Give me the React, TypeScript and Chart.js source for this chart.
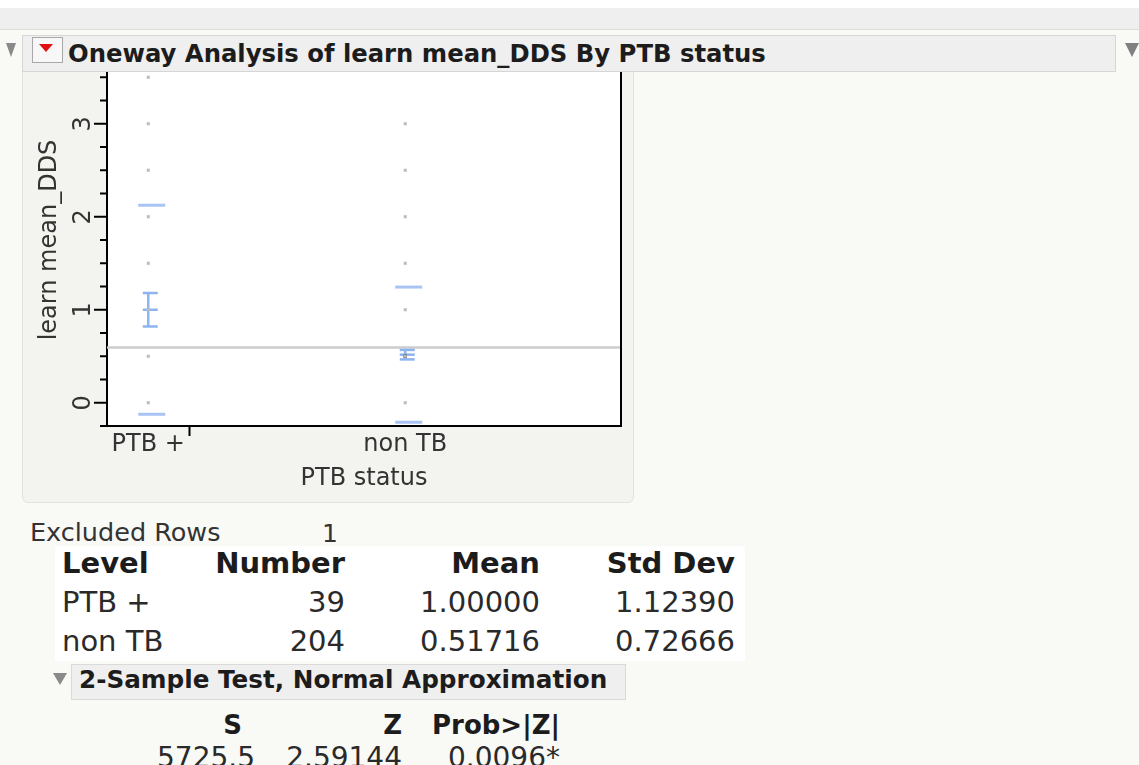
import React, { useEffect, useRef } from "react";
import { Chart, registerables } from "chart.js";

Chart.register(...registerables);

// ---------- data ----------
const categories = ["PTB +", "non TB"];
const groupCounts = [39, 204];
// proportional x axis (JMP "X axis proportional"): group centres on a 0..N scale
const categoryCenters = [19.5, 141];
const groupBoundaries = [39];
const xTotal = 243;

const ptbPoints = [0, 0.5, 1, 1.5, 2, 2.5, 3, 3.5];
const nonTbPoints = [0, 0.5, 1, 1.5, 2, 2.5, 3];
const nonTbHighlighted = [0.5];

const groupMeans = [1.0, 0.51716];
const meanBarLow = [0.82, 0.466];
const meanBarHigh = [1.18, 0.568];
const sdUpper = [2.1239, 1.24382];
const sdLower = [-0.1239, -0.2095];
const grandMean = 0.595;

const yMin = -0.25;
const yMax = 3.75;
const yTickValues = [-0.25, 0, 0.25, 0.5, 0.75, 1, 1.25, 1.5, 1.75, 2, 2.25, 2.5, 2.75, 3, 3.25, 3.5];
const yMajorTicks = [0, 1, 2, 3];
const yTickLabels = ["0", "1", "2", "3"];
const xTickValues = [19.5, 39, 141];
const xTickLabels = ["PTB +", "", "non TB"];

const titleText = "Oneway Analysis of learn mean_DDS By PTB status";
const yTitle = "learn mean_DDS";
const xTitle = "PTB status";

const tableHeaders = ["Level", "Number", "Mean", "Std Dev"];
const tableMeans = ["1.00000", "0.51716"];
const tableStdDevs = ["1.12390", "0.72666"];
const excludedRows = 1;
const testTitle = "2-Sample Test, Normal Approximation";
const testHeaders = ["S", "Z", "Prob>|Z|"];
const testValues = ["5725.5", "2.59144", "0.0096*"];

const FONT = "'DejaVu Sans', 'Liberation Sans', sans-serif";
const W = 1139;

function Txt(props: { x: number; base: number; size: number; bold?: boolean; right?: boolean; color?: string; children: any }) {
  const { x, base, size, bold, right, color, children } = props;
  const st: any = {
    position: "absolute",
    top: base - 0.846 * size,
    fontSize: size,
    lineHeight: 1,
    fontWeight: bold ? 700 : 400,
    whiteSpace: "nowrap",
    color: color || "#222",
  };
  if (right) st.right = W - x;
  else st.left = x;
  return <div style={st}>{children}</div>;
}

const jmpPlugin = {
  id: "jmpMarks",
  beforeDraw(chart: any) {
    const { ctx, chartArea: a } = chart;
    ctx.save();
    ctx.fillStyle = "#ffffff";
    ctx.fillRect(a.left, a.top, a.right - a.left, a.bottom - a.top);
    ctx.restore();
  },
  beforeDatasetsDraw(chart: any) {
    const { ctx, chartArea: a } = chart;
    const x = chart.scales.x;
    const y = chart.scales.y;
    const seg = (x1: number, y1: number, x2: number, y2: number) => {
      ctx.beginPath();
      ctx.moveTo(x1, y1);
      ctx.lineTo(x2, y2);
      ctx.stroke();
    };
    ctx.save();
    const gy = y.getPixelForValue(grandMean);
    ctx.strokeStyle = "#cdcdcd";
    ctx.lineWidth = 2.5;
    seg(a.left, gy, a.right, gy);
    categories.forEach((_, i) => {
      const cx = x.getPixelForValue(categoryCenters[i]);
      ctx.strokeStyle = "#a9c4f3";
      ctx.lineWidth = 3;
      [sdUpper[i], sdLower[i]].forEach((v) => {
        const py = y.getPixelForValue(v);
        seg(cx - 10, py, cx + 17, py);
      });
      ctx.strokeStyle = "#8db3f0";
      ctx.lineWidth = 2.5;
      const t = y.getPixelForValue(meanBarHigh[i]);
      const b = y.getPixelForValue(meanBarLow[i]);
      const m = y.getPixelForValue(groupMeans[i]);
      seg(cx, t, cx, b);
      [t, m, b].forEach((py) => seg(cx - 5.5, py, cx + 9.5, py));
    });
    ctx.restore();
  },
  afterDraw(chart: any) {
    const { ctx, chartArea: a } = chart;
    const y = chart.scales.y;
    ctx.save();
    ctx.strokeStyle = "#000";
    ctx.lineWidth = 2;
    ctx.beginPath();
    ctx.moveTo(a.right, a.top);
    ctx.lineTo(a.right, a.bottom + 1);
    ctx.stroke();
    yTickValues.forEach((v) => {
      const py = y.getPixelForValue(v);
      const len = yMajorTicks.includes(v) ? 13 : 7;
      ctx.beginPath();
      ctx.moveTo(a.left - len, py);
      ctx.lineTo(a.left, py);
      ctx.stroke();
    });
    ctx.fillStyle = "#333";
    ctx.font = `24px ${FONT}`;
    ctx.textAlign = "center";
    ctx.textBaseline = "alphabetic";
    yMajorTicks.forEach((v, i) => {
      const py = y.getPixelForValue(v);
      ctx.save();
      ctx.translate(a.left - 17, py);
      ctx.rotate(-Math.PI / 2);
      ctx.fillText(yTickLabels[i], 0, 0);
      ctx.restore();
    });
    ctx.restore();
  },
};

function OnewayChart() {
  const ref = useRef<HTMLCanvasElement>(null);
  useEffect(() => {
    const chart = new Chart(ref.current as HTMLCanvasElement, {
      type: "scatter",
      data: {
        datasets: [
          {
            label: categories[0],
            data: ptbPoints.map((v) => ({ x: categoryCenters[0], y: v })),
            pointStyle: "rect",
            pointRadius: 2.2,
            backgroundColor: "#bdbdbd",
            borderWidth: 0,
          },
          {
            label: categories[1],
            data: nonTbPoints.map((v) => ({ x: categoryCenters[1], y: v })),
            pointStyle: "rect",
            pointRadius: 2.2,
            backgroundColor: "#bdbdbd",
            borderWidth: 0,
          },
          {
            label: "selected",
            data: nonTbHighlighted.map((v) => ({ x: categoryCenters[1], y: v })),
            pointStyle: "rect",
            pointRadius: 2.4,
            backgroundColor: "#1a1a1a",
            borderWidth: 0,
          },
        ],
      },
      options: {
        animation: false,
        responsive: false,
        devicePixelRatio: 1,
        layout: { autoPadding: false, padding: { left: 0, right: 13, top: 0, bottom: 0 } },
        plugins: { legend: { display: false }, tooltip: { enabled: false } },
        scales: {
          x: {
            type: "linear",
            min: 0,
            max: xTotal,
            afterBuildTicks: (s: any) => {
              s.ticks = xTickValues.map((v) => ({ value: v }));
            },
            afterFit: (s: any) => {
              s.height = 76;
            },
            ticks: {
              autoSkip: false,
              minRotation: 0,
              maxRotation: 0,
              padding: -3,
              color: "#333",
              font: { family: FONT, size: 24, lineHeight: 1 },
              callback: (v: any) => xTickLabels[xTickValues.indexOf(Number(v))] ?? "",
            },
            grid: {
              drawOnChartArea: false,
              tickLength: 10,
              tickWidth: 2,
              tickColor: (c: any) => (c.tick && groupBoundaries.includes(c.tick.value) ? "#000" : "rgba(0,0,0,0)"),
            },
            border: { color: "#000", width: 2 },
            title: {
              display: true,
              text: xTitle,
              color: "#333",
              font: { family: FONT, size: 24, lineHeight: 1.2 },
              padding: { top: 0, bottom: 9 },
            },
          },
          y: {
            type: "linear",
            min: yMin,
            max: yMax,
            afterFit: (s: any) => {
              s.width = 85;
            },
            ticks: { display: false },
            grid: { display: false },
            border: { display: true, color: "#000", width: 2 },
            title: {
              display: true,
              text: yTitle,
              color: "#333",
              font: { family: FONT, size: 24, lineHeight: 1.2 },
              padding: { top: 13, bottom: 0 },
            },
          },
        },
      },
      plugins: [jmpPlugin],
    } as any);
    return () => chart.destroy();
  }, []);
  return (
    <canvas
      ref={ref}
      width={612}
      height={448}
      style={{ position: "absolute", left: 22, top: 54, width: 612, height: 448 }}
    />
  );
}

export default function App() {
  useEffect(() => {
    document.body.style.margin = "0";
  }, []);
  const tri = (l: number, t: number, w: number, h: number, color: string) => (
    <div
      style={{
        position: "absolute",
        left: l,
        top: t,
        width: 0,
        height: 0,
        borderLeft: `${w / 2}px solid transparent`,
        borderRight: `${w / 2}px solid transparent`,
        borderTop: `${h}px solid ${color}`,
      }}
    />
  );
  return (
    <div
      style={{
        position: "fixed",
        left: 0,
        top: 0,
        width: W,
        height: 765,
        overflow: "hidden",
        background: "#f9f9f6",
        fontFamily: FONT,
      }}
    >
      {/* window chrome */}
      <div style={{ position: "absolute", left: 0, top: 0, width: W, height: 8, background: "#ffffff" }} />
      <div style={{ position: "absolute", left: 0, top: 8, width: W, height: 21, background: "#efefef", borderBottom: "1px solid #dcdcdc" }} />

      {/* plot panel */}
      <div
        style={{
          position: "absolute",
          left: 22,
          top: 60,
          width: 610,
          height: 441,
          background: "#f3f3ef",
          border: "1px solid #e2e2de",
          borderRadius: 6,
        }}
      />
      <OnewayChart />

      {/* header bar */}
      <div
        style={{
          position: "absolute",
          left: 22,
          top: 35,
          width: 1092,
          height: 35,
          background: "#efefef",
          border: "1px solid #d6d6d6",
          zIndex: 2,
        }}
      />
      <div
        style={{
          position: "absolute",
          left: 32,
          top: 37,
          width: 29,
          height: 24,
          background: "#f7f7f7",
          border: "1px solid #a8a8a8",
          zIndex: 3,
        }}
      />
      <div style={{ position: "absolute", left: 0, top: 0, zIndex: 3 }}>
        {tri(39, 44, 14, 8, "#e01010")}
        {tri(6, 43, 10, 14, "#8a8a8a")}
        {tri(1125, 43, 14, 14, "#808080")}
      </div>
      <div style={{ position: "absolute", left: 0, top: 0, zIndex: 3 }}>
        <Txt x={68} base={63} size={24.3} bold color="#1c1c1c">
          {titleText}
        </Txt>
      </div>

      {/* summary */}
      <Txt x={30} base={542} size={25.5} color="#333">
        Excluded Rows
      </Txt>
      <Txt x={322} base={542} size={25} color="#333">
        {excludedRows}
      </Txt>
      <div style={{ position: "absolute", left: 55, top: 546, width: 690, height: 115, background: "#ffffff" }} />
      <Txt x={62} base={574} size={29} bold color="#1c1c1c">
        {tableHeaders[0]}
      </Txt>
      <Txt x={345} base={574} size={29} bold right color="#1c1c1c">
        {tableHeaders[1]}
      </Txt>
      <Txt x={540} base={574} size={29} bold right color="#1c1c1c">
        {tableHeaders[2]}
      </Txt>
      <Txt x={735} base={574} size={29} bold right color="#1c1c1c">
        {tableHeaders[3]}
      </Txt>
      {categories.map((c, i) => (
        <React.Fragment key={c}>
          <Txt x={62} base={613 + i * 39} size={29} color="#2a2a2a">
            {c}
          </Txt>
          <Txt x={345} base={613 + i * 39} size={29} right color="#2a2a2a">
            {groupCounts[i]}
          </Txt>
          <Txt x={540} base={613 + i * 39} size={29} right color="#2a2a2a">
            {tableMeans[i]}
          </Txt>
          <Txt x={735} base={613 + i * 39} size={29} right color="#2a2a2a">
            {tableStdDevs[i]}
          </Txt>
        </React.Fragment>
      ))}

      {/* 2-sample test */}
      {tri(53, 673, 14, 12, "#8a8a8a")}
      <div
        style={{
          position: "absolute",
          left: 71,
          top: 664,
          width: 553,
          height: 34,
          background: "#efefef",
          border: "1px solid #dadada",
        }}
      />
      <Txt x={79} base={689} size={24.7} bold color="#1c1c1c">
        {testTitle}
      </Txt>
      <Txt x={242} base={734} size={26} bold right color="#1c1c1c">
        {testHeaders[0]}
      </Txt>
      <Txt x={402} base={734} size={26} bold right color="#1c1c1c">
        {testHeaders[1]}
      </Txt>
      <Txt x={560} base={734} size={26} bold right color="#1c1c1c">
        {testHeaders[2]}
      </Txt>
      <Txt x={255} base={768} size={28} right color="#2a2a2a">
        {testValues[0]}
      </Txt>
      <Txt x={402} base={768} size={28} right color="#2a2a2a">
        {testValues[1]}
      </Txt>
      <Txt x={560} base={768} size={28} right color="#2a2a2a">
        {testValues[2]}
      </Txt>
    </div>
  );
}
